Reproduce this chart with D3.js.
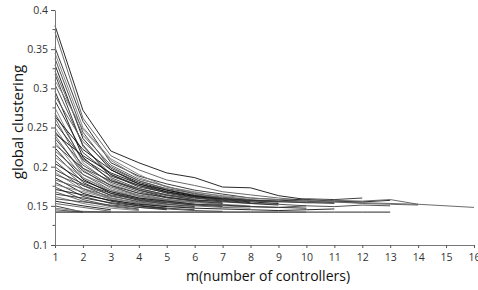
<!DOCTYPE html>
<html>
<head>
<meta charset="utf-8">
<script src="https://cdn.jsdelivr.net/npm/d3@7"></script>
<style>
  body { margin: 0; background: #fff; }
  svg { display: block; font-family: "Open Sans", "DejaVu Sans", sans-serif; }
</style>
</head>
<body>
<svg id="chart"></svg>
<script>
const w = 478;
const h = 290;

// x: m = 1..16, y: global clustering
const xTicks = d3.range(1, 17);
const yTicks = [0.1, 0.15, 0.2, 0.25, 0.3, 0.35, 0.4];
const yMinor = [0.125, 0.175, 0.225, 0.275, 0.325, 0.375];

// each run starts at m = 1
const runs = [
  [0.380, 0.272, 0.220, 0.205, 0.192, 0.186, 0.174, 0.173, 0.163, 0.158, 0.156, 0.155, 0.157],
  [0.372, 0.262, 0.214, 0.196, 0.183, 0.176, 0.168, 0.164, 0.160, 0.157, 0.155, 0.154, 0.153, 0.152, 0.150, 0.148],
  [0.352, 0.258, 0.205, 0.188, 0.178, 0.170, 0.165, 0.160, 0.158, 0.156, 0.154],
  [0.345, 0.250, 0.210, 0.190, 0.174, 0.168, 0.162, 0.158],
  [0.338, 0.244, 0.198, 0.182, 0.172, 0.166, 0.160, 0.157, 0.155],
  [0.330, 0.236, 0.196, 0.178, 0.170, 0.163, 0.158],
  [0.322, 0.240, 0.202, 0.184, 0.175, 0.165, 0.161, 0.158, 0.156, 0.154, 0.155, 0.153, 0.152, 0.151],
  [0.318, 0.226, 0.190, 0.176, 0.166, 0.160, 0.156],
  [0.310, 0.248, 0.208, 0.186, 0.174, 0.167, 0.163, 0.160, 0.158, 0.157, 0.155],
  [0.305, 0.228, 0.186, 0.172, 0.164, 0.158],
  [0.296, 0.212, 0.182, 0.170, 0.161, 0.156, 0.153],
  [0.290, 0.232, 0.200, 0.182, 0.171, 0.164, 0.160, 0.157, 0.156, 0.155, 0.157, 0.156, 0.158, 0.152],
  [0.284, 0.218, 0.190, 0.174, 0.167, 0.161, 0.157, 0.154],
  [0.275, 0.205, 0.178, 0.166, 0.158, 0.154],
  [0.268, 0.208, 0.184, 0.170, 0.163, 0.158, 0.155, 0.153, 0.152, 0.150],
  [0.264, 0.222, 0.196, 0.180, 0.170, 0.163, 0.159, 0.156],
  [0.262, 0.198, 0.176, 0.162, 0.157, 0.152],
  [0.256, 0.210, 0.188, 0.176, 0.168, 0.162, 0.159, 0.157, 0.156, 0.159, 0.158, 0.160],
  [0.250, 0.196, 0.172, 0.163, 0.156],
  [0.245, 0.202, 0.180, 0.168, 0.160, 0.156, 0.154],
  [0.242, 0.214, 0.192, 0.178, 0.168, 0.162, 0.158, 0.155, 0.153],
  [0.240, 0.190, 0.170, 0.160, 0.155, 0.151],
  [0.236, 0.194, 0.176, 0.166, 0.161, 0.157, 0.156, 0.153, 0.151],
  [0.232, 0.186, 0.168, 0.158, 0.153],
  [0.228, 0.198, 0.182, 0.172, 0.164, 0.160, 0.158, 0.156, 0.155, 0.154, 0.153],
  [0.224, 0.184, 0.166, 0.157, 0.152, 0.149],
  [0.220, 0.190, 0.174, 0.164, 0.158, 0.155, 0.152],
  [0.216, 0.180, 0.163, 0.155, 0.150],
  [0.212, 0.186, 0.170, 0.162, 0.157, 0.154, 0.152, 0.150],
  [0.208, 0.176, 0.160, 0.153, 0.149],
  [0.204, 0.182, 0.168, 0.160, 0.156, 0.152, 0.151, 0.149, 0.148, 0.147],
  [0.200, 0.172, 0.158, 0.151, 0.147],
  [0.196, 0.178, 0.166, 0.159, 0.154, 0.151, 0.149],
  [0.193, 0.170, 0.160, 0.154, 0.150, 0.148],
  [0.190, 0.176, 0.164, 0.158, 0.154, 0.152, 0.150, 0.149, 0.148, 0.150, 0.149, 0.151, 0.150],
  [0.186, 0.166, 0.156, 0.150, 0.146],
  [0.183, 0.172, 0.162, 0.156, 0.152, 0.150, 0.148, 0.147],
  [0.180, 0.162, 0.153, 0.148, 0.145],
  [0.177, 0.168, 0.159, 0.154, 0.150, 0.148],
  [0.174, 0.158, 0.150, 0.146],
  [0.171, 0.164, 0.157, 0.152, 0.149, 0.147, 0.146, 0.145, 0.144, 0.145, 0.146],
  [0.168, 0.156, 0.149, 0.145],
  [0.165, 0.160, 0.154, 0.150, 0.147, 0.145],
  [0.162, 0.153, 0.147, 0.144],
  [0.159, 0.155, 0.151, 0.148, 0.146, 0.144, 0.143],
  [0.156, 0.150, 0.145],
  [0.153, 0.148, 0.143],
  [0.150, 0.142],
  [0.147, 0.143, 0.142],
  [0.145, 0.142],
  [0.142, 0.142, 0.142, 0.142, 0.142, 0.142, 0.142, 0.142, 0.142, 0.142, 0.142, 0.142, 0.142],
  [0.142, 0.142, 0.142, 0.142, 0.142, 0.142, 0.142, 0.142, 0.142, 0.142]
];

const lineGreys = ["#111", "#5a5a5a", "#2a2a2a", "#7a7a7a", "#404040"];

const svg = d3.select("#chart")
  .attr("width", w)
  .attr("height", h)
  .attr("viewBox", [0, 0, w, h]);

const x = d3.scaleLinear().domain([1, 16]).range([55, 474]);
const y = d3.scaleLinear().domain([0.1, 0.4]).range([245, 10]);

// runs
const line = d3.line()
  .x((d, i) => x(i + 1))
  .y(d => y(d));

svg.append("g")
  .selectAll("path")
  .data(runs)
  .enter()
  .append("path")
  .attr("d", line)
  .attr("fill", "none")
  .attr("stroke", (d, i) => lineGreys[i % lineGreys.length])
  .attr("stroke-width", 0.9);

// axes
const xAxis = d3.axisBottom(x)
  .tickValues(xTicks)
  .tickSize(3)
  .tickSizeOuter(0)
  .tickFormat(d3.format("d"));

const gx = svg.append("g")
  .attr("transform", "translate(0," + y(0.1) + ")")
  .call(xAxis);

const yAxis = d3.axisLeft(y)
  .tickValues(yTicks)
  .tickSize(4)
  .tickSizeOuter(0)
  .tickFormat(d => d === 0.1 || d === 0.2 || d === 0.3 || d === 0.4 ? d3.format(".1f")(d) : d3.format(".2f")(d));

const gy = svg.append("g")
  .attr("transform", "translate(" + x(1) + ",0)")
  .call(yAxis);

gy.append("g")
  .selectAll("line")
  .data(yMinor)
  .enter()
  .append("line")
  .attr("x1", -2.5)
  .attr("x2", 0)
  .attr("y1", d => y(d))
  .attr("y2", d => y(d))
  .attr("stroke", "#555");

[gx, gy].forEach(g => {
  g.select(".domain").attr("stroke", "#777");
  g.selectAll(".tick line").attr("stroke", "#555");
  g.selectAll("text")
    .attr("fill", "#333")
    .attr("font-size", 10.5)
    .attr("font-family", "Open Sans, DejaVu Sans, sans-serif");
});
gx.selectAll("text").attr("dy", "0.95em");

// titles
svg.append("text")
  .attr("x", 268)
  .attr("y", 281)
  .attr("text-anchor", "middle")
  .attr("font-size", 14)
  .attr("fill", "#111")
  .text("m(number of controllers)");

svg.append("text")
  .attr("transform", "translate(23,122) rotate(-90)")
  .attr("text-anchor", "middle")
  .attr("font-size", 15)
  .attr("fill", "#111")
  .text("global clustering");
</script>
</body>
</html>
